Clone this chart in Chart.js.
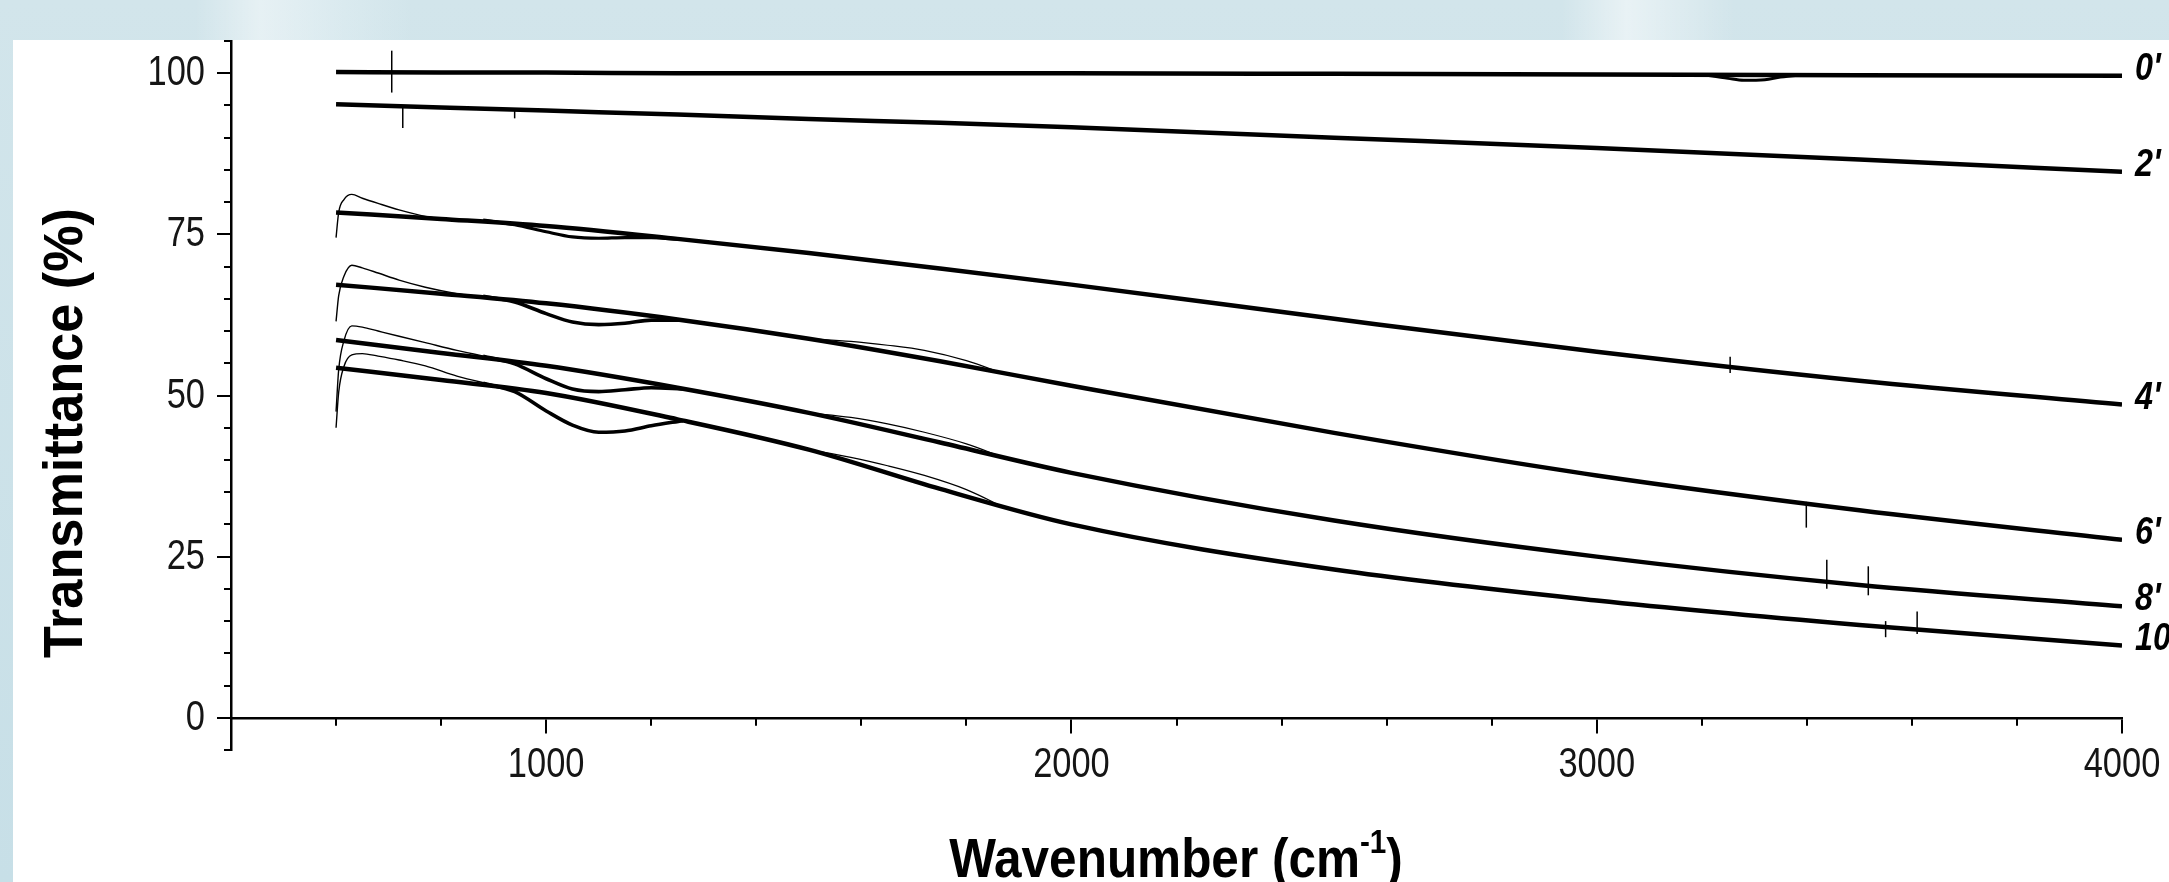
<!DOCTYPE html>
<html>
<head>
<meta charset="utf-8">
<title>Transmittance spectra</title>
<script src="https://cdn.jsdelivr.net/npm/chart.js@4.4.1/dist/chart.umd.min.js"></script>
<style>
  html, body { margin: 0; padding: 0; }
  body {
    width: 2169px; height: 882px; overflow: hidden; position: relative;
    background:
      linear-gradient(90deg, transparent 0 9%, rgba(255,255,255,.45) 12%, rgba(235,245,248,.3) 16%, transparent 19%, transparent 72%, rgba(255,255,255,.5) 75%, transparent 80%),
      linear-gradient(180deg, #d2e5eb, #c7dfe7);
  }
  #panel { position: absolute; left: 13px; top: 40px; width: 2156px; height: 842px; background: #fff; }
  canvas { display: block; }
</style>
</head>
<body>
<div id="panel"><canvas id="chart" width="2156" height="842"></canvas></div>
<script>
// --- axis ticks ---
const xMajorTicks = [1000, 2000, 3000, 4000];
const xMinorTicks = [600, 800, 1200, 1400, 1600, 1800, 2200, 2400, 2600, 2800, 3200, 3400, 3600, 3800];
const yMajorTicks = [0, 25, 50, 75, 100];
const yMinorTicks = [-5, 5, 10, 15, 20, 30, 35, 40, 45, 55, 60, 65, 70, 80, 85, 90, 95, 105];

// --- smooth fitted curves (wavenumber cm-1 -> transmittance %) ---
const curveLabels = ["0'", "2'", "4'", "6'", "8'", "10'"];
const fitX  = [600, 800, 1000, 1250, 1500, 1750, 2000, 2500, 3000, 3500, 4000];
const fit0  = [100.2, 100.1, 100.1, 100.0, 100.0, 100.0, 100.0, 99.9, 99.8, 99.7, 99.6];
const fit2  = [95.2, 94.7, 94.2, 93.6, 92.9, 92.3, 91.6, 90.0, 88.4, 86.6, 84.7];
const fit4  = [78.4, 77.4, 76.3, 74.3, 72.1, 69.7, 67.2, 61.9, 56.8, 52.3, 48.6];
const fit6  = [67.2, 65.8, 64.3, 61.8, 58.8, 55.3, 51.5, 44.2, 37.6, 32.2, 27.6];
const fit8  = [58.6, 56.6, 54.6, 51.2, 47.3, 42.7, 38.0, 30.6, 25.0, 20.6, 17.3];
const fit10 = [54.3, 52.4, 50.4, 46.3, 41.6, 35.5, 30.0, 23.0, 18.2, 14.4, 11.2];

// --- absorption band (dip) around 1100 cm-1 ---
const bandX  = [880, 940, 1000, 1050, 1100, 1150, 1200, 1260];
const band4  = [77.2, 76.5, 75.4, 74.6, 74.4, 74.5, 74.5, 74.2];
const band6  = [65.4, 64.5, 62.7, 61.4, 61.0, 61.2, 61.7, 61.7];
const band8  = [56.1, 54.9, 52.6, 51.0, 50.6, 50.9, 51.2, 51.0];
const band10 = [51.9, 50.6, 47.6, 45.4, 44.3, 44.5, 45.3, 46.1];

// --- measured data near the low-wavenumber edge ---
const humpX  = [600, 605, 615, 630, 650, 680, 720, 770, 830, 900];
const hump4  = [74.5, 78.4, 80.4, 81.2, 80.6, 79.8, 78.8, 77.8, 77.2, 76.9];
const hump6  = [61.5, 65.5, 68.5, 70.2, 69.8, 69.0, 67.9, 66.8, 65.8, 65.0];
const hump8  = [47.5, 54.0, 58.5, 60.8, 60.6, 60.0, 59.2, 58.2, 57.0, 55.8];
const hump10 = [45.0, 50.5, 54.5, 56.3, 56.5, 56.1, 55.5, 54.6, 53.0, 51.6];

// --- measured data near 1600-1850 cm-1 ---
const midX  = [1500, 1580, 1650, 1720, 1800, 1870];
const mid6  = [58.8, 58.4, 57.8, 57.0, 55.4, 53.4];
const mid8  = [47.3, 46.6, 45.6, 44.3, 42.5, 40.4];
const mid10 = [41.6, 40.4, 39.1, 37.6, 35.4, 32.7];

// --- small dip of the 0' spectrum near 3300 cm-1 ---
const dip0X = [3200, 3250, 3280, 3320, 3350, 3400];
const dip0  = [99.8, 99.2, 98.9, 99.0, 99.4, 99.8];

// --- single noise spikes: [wavenumber, low %, high %] ---
const spikes = [
  [706, 97.0, 103.5], [727, 91.5, 95.0], [940, 93.0, 94.6],
  [3254, 53.5, 56.0], [3399, 29.5, 33.5], [3438, 20.0, 24.5],
  [3517, 19.0, 23.5], [3550, 12.5, 15.0], [3610, 13.0, 16.5]
];

const pts = (xs, ys) => xs.map((x, i) => ({ x: x, y: ys[i] }));

function line(xs, ys, width, label) {
  return {
    label: label || '',
    data: pts(xs, ys),
    borderColor: '#000',
    borderWidth: width,
    pointRadius: 0,
    fill: false,
    cubicInterpolationMode: 'monotone'
  };
}

const fits = [fit0, fit2, fit4, fit6, fit8, fit10];

const datasets = [
  line(humpX, hump4, 1.4), line(humpX, hump6, 1.4), line(humpX, hump8, 1.4), line(humpX, hump10, 1.4),
  line(midX, mid6, 1.2), line(midX, mid8, 1.2), line(midX, mid10, 1.2),
  line(bandX, band4, 3.2), line(bandX, band6, 3.6), line(bandX, band8, 3.6), line(bandX, band10, 3.6),
  line(dip0X, dip0, 3),
  ...spikes.map(s => line([s[0], s[0]], [s[1], s[2]], 1.5)),
  ...fits.map((f, i) => line(fitX, f, 4.5, curveLabels[i]))
];

const labelFont = "42px 'Liberation Sans', Arial";

const decorations = {
  id: 'decorations',
  afterDraw(chart) {
    const { ctx, chartArea, scales: { x, y } } = chart;
    const y0 = y.getPixelForValue(0);
    const left = chartArea.left;
    ctx.save();
    // minor ticks
    ctx.strokeStyle = '#000';
    ctx.lineWidth = 2;
    xMinorTicks.forEach(v => {
      const px = Math.round(x.getPixelForValue(v));
      ctx.beginPath(); ctx.moveTo(px, y0); ctx.lineTo(px, y0 + 8); ctx.stroke();
    });
    yMinorTicks.forEach(v => {
      const py = Math.round(y.getPixelForValue(v));
      ctx.beginPath(); ctx.moveTo(left - 7, py); ctx.lineTo(left, py); ctx.stroke();
    });

    // tick labels (condensed)
    ctx.fillStyle = '#151515';
    ctx.font = labelFont;
    ctx.textBaseline = 'alphabetic';
    ctx.textAlign = 'right';
    yMajorTicks.forEach(v => {
      ctx.save();
      ctx.translate(left - 26, y.getPixelForValue(v) + 12);
      ctx.scale(0.82, 1);
      ctx.fillText(String(v), 0, 0);
      ctx.restore();
    });
    ctx.textAlign = 'center';
    xMajorTicks.forEach(v => {
      ctx.save();
      ctx.translate(x.getPixelForValue(v), y0 + 59);
      ctx.scale(0.82, 1);
      ctx.fillText(String(v), 0, 0);
      ctx.restore();
    });

    // curve labels at the right end
    ctx.fillStyle = '#000';
    ctx.font = "italic bold 38px 'Liberation Sans', Arial";
    ctx.textAlign = 'left';
    fits.forEach((f, i) => {
      ctx.save();
      ctx.translate(x.getPixelForValue(fitX[fitX.length - 1]) + 13, y.getPixelForValue(f[f.length - 1]) + 4);
      ctx.scale(0.85, 1);
      ctx.fillText(curveLabels[i], 0, 0);
      ctx.restore();
    });

    // y axis title
    ctx.save();
    ctx.translate(69, 393);
    ctx.rotate(-Math.PI / 2);
    ctx.scale(0.95, 1);
    ctx.font = "bold 55px 'Liberation Sans', Arial";
    ctx.textAlign = 'center';
    ctx.fillText('Transmittance (%)', 0, 0);
    ctx.restore();

    // x axis title with superscript
    ctx.save();
    ctx.translate(1163, 837);
    ctx.scale(0.9, 1);
    const big = "bold 55px 'Liberation Sans', Arial";
    const small = "bold 33px 'Liberation Sans', Arial";
    const t1 = 'Wavenumber (cm', t2 = '-1', t3 = ')';
    ctx.font = big; const w1 = ctx.measureText(t1).width; const w3 = ctx.measureText(t3).width;
    ctx.font = small; const w2 = ctx.measureText(t2).width;
    let sx = -(w1 + w2 + w3) / 2;
    ctx.textAlign = 'left';
    ctx.font = big; ctx.fillText(t1, sx, 0); sx += w1;
    ctx.font = small; ctx.fillText(t2, sx, -24); sx += w2;
    ctx.font = big; ctx.fillText(t3, sx, 0);
    ctx.restore();

    ctx.restore();
  }
};

const noPad = s => { s.paddingTop = 0; s.paddingBottom = 0; s.paddingLeft = 0; s.paddingRight = 0; };

new Chart(document.getElementById('chart'), {
  type: 'line',
  data: { datasets: datasets },
  options: {
    responsive: false,
    animation: false,
    events: [],
    layout: { padding: { top: 1, right: 47, left: 0, bottom: 132 } },
    plugins: { legend: { display: false }, tooltip: { enabled: false } },
    scales: {
      x: {
        type: 'linear',
        min: 400,
        max: 4000,
        position: { y: 0 },
        afterBuildTicks: s => { s.ticks = xMajorTicks.map(v => ({ value: v })); },
        afterFit: s => { noPad(s); },
        grid: { drawOnChartArea: false, drawTicks: true, tickLength: 14, color: '#000', lineWidth: 2 },
        border: { display: true, color: '#000', width: 2.5 },
        ticks: { display: false }
      },
      y: {
        type: 'linear',
        min: -5,
        max: 105,
        position: 'left',
        afterBuildTicks: s => { s.ticks = yMajorTicks.map(v => ({ value: v })); },
        afterFit: s => { s.width = 218; noPad(s); },
        grid: { drawOnChartArea: false, drawTicks: true, tickLength: 14, color: '#000', lineWidth: 2 },
        border: { display: true, color: '#000', width: 2.5 },
        ticks: { display: false }
      }
    }
  },
  plugins: [decorations]
});
</script>
</body>
</html>
